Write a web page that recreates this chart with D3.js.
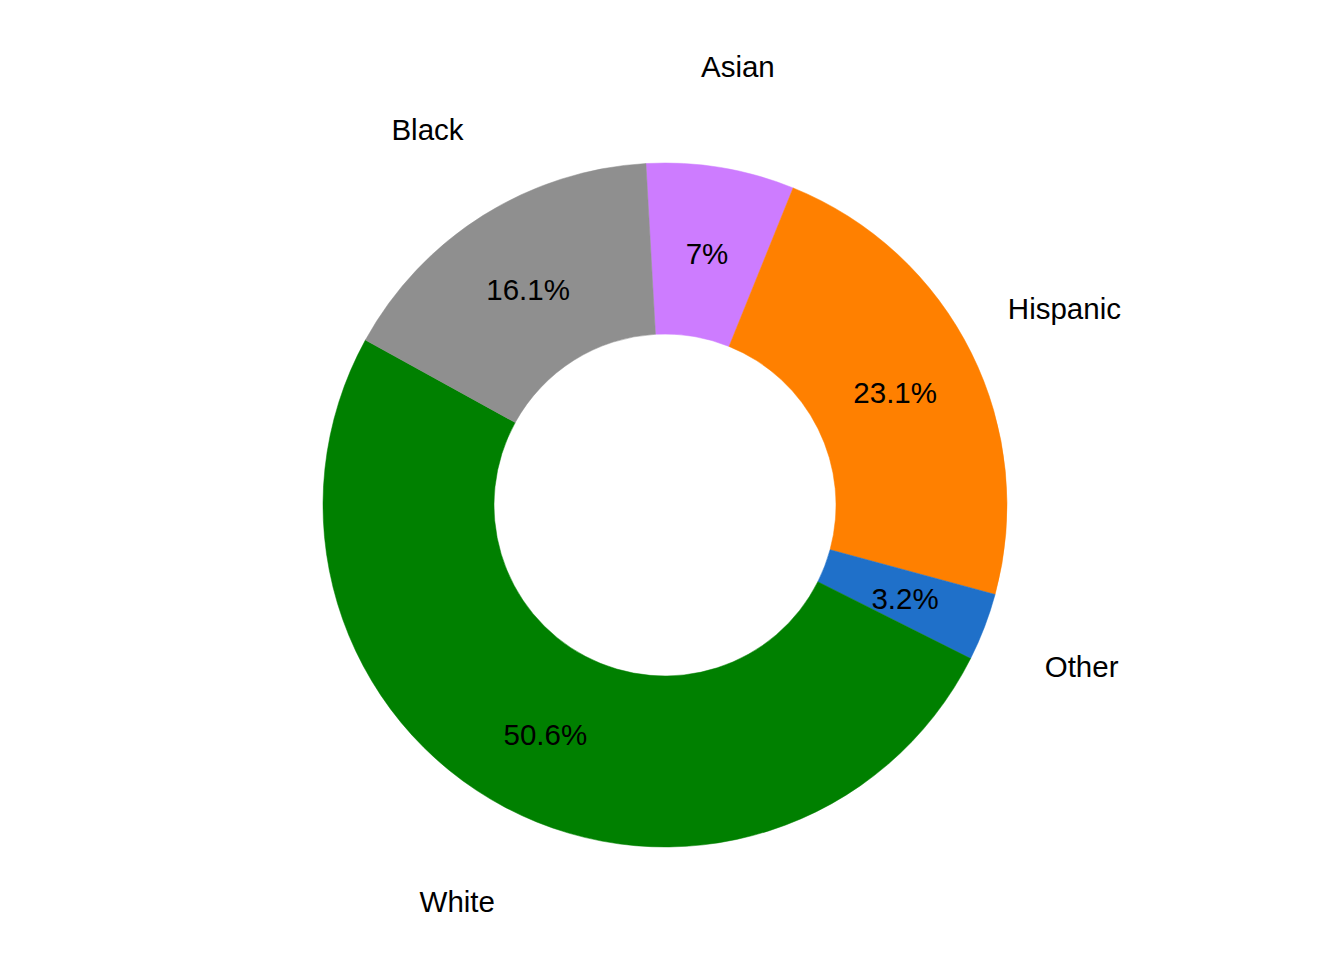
<!DOCTYPE html>
<meta charset="utf-8">
<style>
body { margin: 0; background: #fff; }
.label { font-family: "Liberation Sans", Arial, sans-serif; font-size: 29.5px; fill: #000; text-anchor: middle; }
</style>
<svg width="1344" height="960"></svg>
<script src="https://d3js.org/d3.v7.min.js"></script>
<script>

// slices, clockwise from just left of 12 o'clock
var groups = ["Asian", "Hispanic", "Other", "White", "Black"];
var shares = [7, 23.1, 3.2, 50.6, 16.1];
var shareLabels = ["7%", "23.1%", "3.2%", "50.6%", "16.1%"];
var colors = ["#CD7CFF", "#FF8000", "#1F70C9", "#008000", "#8F8F8F"];

var svg = d3.select("svg"),
    cx = 665,
    cy = 505,
    outer = 342,
    inner = 171,
    labelR = 446,
    pctR = 257;

var g = svg.append("g").attr("transform", "translate(" + cx + "," + cy + ")");

var start = -3.2 * Math.PI / 180;

var pie = d3.pie()
    .sort(null)
    .value(function(d) { return d.value; })
    .startAngle(start)
    .endAngle(start + 2 * Math.PI);

var data = groups.map(function(k, i) {
  return {name: k, value: shares[i], pct: shareLabels[i], color: colors[i]};
});

var arcs = pie(data);

var arc = d3.arc().innerRadius(inner).outerRadius(outer);
var pctArc = d3.arc().innerRadius(pctR).outerRadius(pctR);
var nameArc = d3.arc().innerRadius(labelR).outerRadius(labelR);

g.selectAll(".slice")
  .data(arcs)
  .enter().append("path")
    .attr("class", "slice")
    .attr("d", arc)
    .attr("fill", function(d) { return d.data.color; })
    .attr("stroke", function(d) { return d.data.color; })
    .attr("stroke-width", 0.5);

// percentages inside the ring
g.selectAll(".pct")
  .data(arcs)
  .enter().append("text")
    .attr("class", "label pct")
    .attr("transform", function(d) { return "translate(" + pctArc.centroid(d) + ")"; })
    .attr("dy", "0.42em")
    .text(function(d) { return d.data.pct; });

// group names outside
g.selectAll(".name")
  .data(arcs)
  .enter().append("text")
    .attr("class", "label name")
    .attr("transform", function(d) { return "translate(" + nameArc.centroid(d) + ")"; })
    .attr("dy", "0.42em")
    .text(function(d) { return d.data.name; });

</script>
